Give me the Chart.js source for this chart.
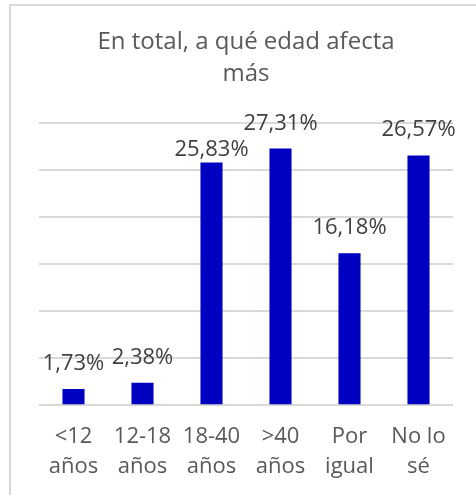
<!DOCTYPE html>
<html>
<head>
<meta charset="utf-8">
<script src="https://cdn.jsdelivr.net/npm/chart.js@4"></script>
<style>
  html, body { margin: 0; padding: 0; background: #ffffff; }
  #wrap { position: relative; width: 476px; height: 495px; overflow: hidden; }
  #frame { position: absolute; left: 9px; top: 4px; width: 600px; height: 600px;
           border-top: 2px solid #d9d9d9; border-left: 2px solid #d9d9d9; box-sizing: border-box; }
  canvas { position: absolute; left: 0; top: 0; }
</style>
</head>
<body>
<div id="wrap">
  <div id="frame"></div>
  <canvas id="c" width="476" height="495"></canvas>
</div>
<script>
const categories = [["<12", "años"], ["12-18", "años"], ["18-40", "años"], [">40", "años"], ["Por", "igual"], ["No lo", "sé"]];
const values = [1.73, 2.38, 25.83, 27.31, 16.18, 26.57];
const valueLabels = ["1,73%", "2,38%", "25,83%", "27,31%", "16,18%", "26,57%"];
const titleLines = ["En total, a qué edad afecta", "más"];

const FONT = "'Open Sans', sans-serif";

const labelPlugin = {
  id: 'valueLabels',
  afterDatasetsDraw(chart, args, opts) {
    const ctx = chart.ctx;
    const meta = chart.getDatasetMeta(0);
    ctx.save();
    ctx.font = opts.font;
    ctx.fillStyle = opts.color;
    ctx.textAlign = 'center';
    ctx.textBaseline = 'middle';
    meta.data.forEach((bar, i) => {
      const off = opts.offsets[i];
      ctx.fillText(valueLabels[i], bar.x, bar.y - off);
    });
    ctx.restore();
  }
};

new Chart(document.getElementById('c'), {
  type: 'bar',
  data: {
    labels: categories,
    datasets: [{
      data: values,
      backgroundColor: '#0000C0',
      borderWidth: 0,
      categoryPercentage: 1,
      barPercentage: 0.32
    }]
  },
  options: {
    responsive: false,
    animation: false,
    devicePixelRatio: 1,
    layout: { padding: { left: 39, right: 23, top: 0, bottom: -4 } },
    plugins: {
      legend: { display: false },
      tooltip: { enabled: false },
      title: {
        display: true,
        text: titleLines,
        color: '#595959',
        font: { family: FONT, size: 24, weight: 'normal', lineHeight: 1.34 },
        padding: { top: 26, bottom: 33 }
      },
      valueLabels: {
        font: "22px " + FONT,
        color: '#404040',
        offsets: [25, 25, 13, 25, 25, 26]
      }
    },
    scales: {
      x: {
        grid: { display: false, drawTicks: false },
        border: { display: false },
        ticks: {
          color: '#595959',
          font: { family: FONT, size: 22, lineHeight: 1.36 },
          padding: 17,
          maxRotation: 0,
          autoSkip: false
        }
      },
      y: {
        min: 0,
        max: 30,
        ticks: { display: false, stepSize: 5 },
        grid: { color: '#d9d9d9', lineWidth: 2, drawTicks: false },
        border: { display: false }
      }
    }
  },
  plugins: [labelPlugin]
});
</script>
</body>
</html>
